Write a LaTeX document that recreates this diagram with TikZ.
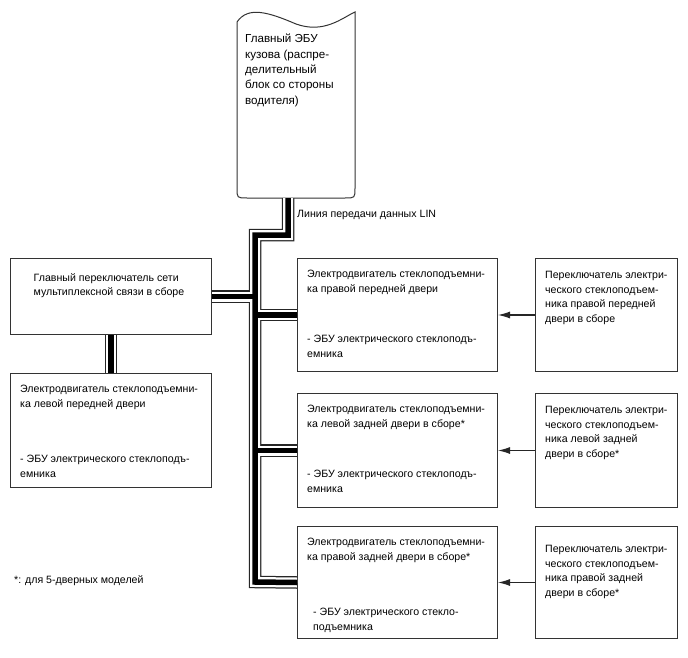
\documentclass[tikz,border=0pt]{standalone}
\usepackage{fontspec}
\setmainfont{Liberation Sans}
\usetikzlibrary{positioning,arrows.meta,calc}

\begin{document}
\begin{tikzpicture}[
		x=1pt, y=-1pt,
		box/.style={draw=black!80, line width=1pt, anchor=north west, inner sep=0pt},
		txt/.style={anchor=north west, align=left, inner sep=0pt, font=\fontsize{10.6}{14.6}\selectfont},
		cableout/.style={line width=12.5pt, black!85, line join=miter},
		cablegap/.style={line width=10pt, white, line join=miter},
		cablecore/.style={line width=5.5pt, black, line join=miter},
		arr/.style={line width=1.1pt, black!85, -{Latex[length=12pt,width=7pt]}}
		]
	\useasboundingbox (0,0) rectangle (688,658);
	
	% body ECU with torn top edge
	\draw[line width=1pt, black!80] (237,22) .. controls (248,6) and (268,12) .. (296,24)
		.. controls (324,34) and (342,18) .. (355,12) -- (355,188)
		.. controls (355,198) .. (345,198) -- (247,198)
		.. controls (237,198) .. (237,188) -- cycle;
	\node[txt, font=\fontsize{11.6}{15.3}\selectfont] (ecu) at (245,34)
	{Главный ЭБУ\\кузова (распре-\\делительный\\блок со стороны\\водителя)};
	
	\coordinate (ecubot) at (288,198);
	\coordinate (bustop) at (255,235);
	\coordinate (busbot) at (255,582);
	
	% boxes
	\node[box, minimum width=201, minimum height=76] (sw) at (10,258) {};
	\node[box, minimum width=201, minimum height=114] (lmot) at (10,373) {};
	\node[box, minimum width=200, minimum height=113] (mot1) at (297,258) {};
	\node[box, minimum width=200, minimum height=114] (mot2) at (297,393) {};
	\node[box, minimum width=200, minimum height=112] (mot3) at (297,526) {};
	\node[box, minimum width=142, minimum height=113] (rsw1) at (535,258) {};
	\node[box, minimum width=142, minimum height=114] (rsw2) at (535,393) {};
	\node[box, minimum width=142, minimum height=112] (rsw3) at (535,526) {};
	
	% texts
	\node[txt, anchor=north] (swt) at ([shift={(-2,15)}]sw.north)
	{Главный переключатель сети\\мультиплексной связи в сборе};
	\node[txt] (lmota) at ([shift={(10,12)}]lmot.north west)
	{Электродвигатель стеклоподъемни-\\ка левой передней двери};
	\node[txt] (lmotb) at ([shift={(10,82)}]lmot.north west)
	{- ЭБУ электрического стеклоподъ-\\емника};
	\node[txt] (mot1a) at ([shift={(10,12)}]mot1.north west)
	{Электродвигатель стеклоподъемни-\\ка правой передней двери};
	\node[txt] (mot1b) at ([shift={(10,77)}]mot1.north west)
	{- ЭБУ электрического стеклоподъ-\\емника};
	\node[txt] (mot2a) at ([shift={(10,12)}]mot2.north west)
	{Электродвигатель стеклоподъемни-\\ка левой задней двери в сборе*};
	\node[txt] (mot2b) at ([shift={(10,77)}]mot2.north west)
	{- ЭБУ электрического стеклоподъ-\\емника};
	\node[txt] (mot3a) at ([shift={(10,12)}]mot3.north west)
	{Электродвигатель стеклоподъемни-\\ка правой задней двери в сборе*};
	\node[txt] (mot3b) at ([shift={(16,82)}]mot3.north west)
	{- ЭБУ электрического стекло-\\подъемника};
	\node[txt] (rsw1t) at ([shift={(10,13)}]rsw1.north west)
	{Переключатель электри-\\ческого стеклоподъем-\\ника правой передней\\двери в сборе};
	\node[txt] (rsw2t) at ([shift={(10,13)}]rsw2.north west)
	{Переключатель электри-\\ческого стеклоподъем-\\ника левой задней\\двери в сборе*};
	\node[txt] (rsw3t) at ([shift={(10,19)}]rsw3.north west)
	{Переключатель электри-\\ческого стеклоподъем-\\ника правой задней\\двери в сборе*};
	
	\node[txt, anchor=west] (lin) at ([shift={(9,17)}]ecubot) {Линия передачи данных LIN};
	\node[txt, anchor=west] (note) at (14,581) {*: для 5-дверных моделей};
	
	% LIN bus, drawn in three layers
	\foreach \layer in {cableout,cablegap,cablecore}{
		\draw[\layer] (ecubot) |- (bustop) -- (busbot) -- (mot3.west);
		\draw[\layer] (sw.east) -- (sw.east -| bustop);
		\draw[\layer] (mot1.west -| bustop) -- (mot1.west);
		\draw[\layer] (mot2.west -| bustop) -- (mot2.west);
		\draw[\layer] (sw.south) -- (lmot.north);
	}
	
	\draw[arr] (rsw1.west) -- (mot1.east);
	\draw[arr] (rsw2.west) -- (mot2.east);
	\draw[arr] (rsw3.west) -- (mot3.east);
	
\end{tikzpicture}
\end{document}
